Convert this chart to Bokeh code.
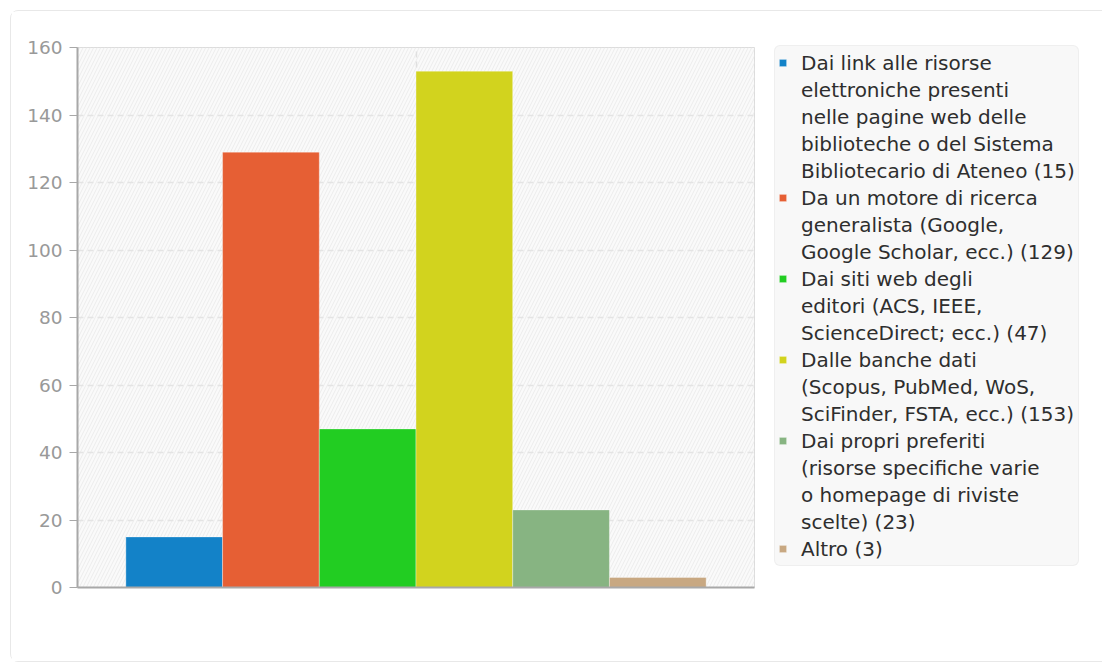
from bokeh.plotting import figure
from bokeh.models import (ColumnDataSource, Legend, LegendItem, FixedTicker,
                          BoxAnnotation)
from bokeh.embed import file_html
from bokeh.resources import INLINE

# ---- data ----
names = [
    "Dai link alle risorse\nelettroniche presenti\nnelle pagine web delle\nbiblioteche o del Sistema\nBibliotecario di Ateneo",
    "Da un motore di ricerca\ngeneralista (Google,\nGoogle Scholar, ecc.)",
    "Dai siti web degli\neditori (ACS, IEEE,\nScienceDirect; ecc.)",
    "Dalle banche dati\n(Scopus, PubMed, WoS,\nSciFinder, FSTA, ecc.)",
    "Dai propri preferiti\n(risorse specifiche varie\no homepage di riviste\nscelte)",
    "Altro",
]
values = [15, 129, 47, 153, 23, 3]
colors = ["#1382c8", "#e65f34", "#22cd22", "#d2d31e", "#87b482", "#c8a882"]
positions = [1, 2, 3, 4, 5, 6]
y_ticks = [0, 20, 40, 60, 80, 100, 120, 140, 160]

labels = [f"{n} ({v})" for n, v in zip(names, values)]

src = ColumnDataSource(dict(x=positions, top=values, color=colors, label=labels))

FONT = "DejaVu Sans"

p = figure(
    output_backend="svg", toolbar_location=None,
    frame_width=677, frame_height=540,
    x_range=(0, 7), y_range=(0, 160),
    min_border_left=66, min_border_top=36, min_border_bottom=74, min_border_right=345,
    background_fill_color="#fafafa", border_fill_color="white",
    outline_line_color="#dcdcdc", outline_line_width=1,
)
p.margin = (10, 0, 0, 10)
p.styles = {"border": "1px solid #e8e8e8", "border-radius": "8px"}

hatch = BoxAnnotation(fill_alpha=0, hatch_pattern="/", hatch_color="#ececec",
                      hatch_scale=7, hatch_weight=1, line_alpha=0, level="underlay")
p.add_layout(hatch)
p.center = [hatch] + [c for c in p.center if c is not hatch]

r = p.vbar(x="x", top="top", width=1.0, bottom=0, color="color", source=src,
           line_color="white", line_alpha=0.35, line_width=1)
blank = p.scatter(x=[], y=[], fill_alpha=0, line_alpha=0)

# axes
p.yaxis.ticker = FixedTicker(ticks=y_ticks)
p.yaxis.axis_line_color = "#a8a8a8"
p.yaxis.axis_line_width = 2
p.yaxis.major_tick_line_color = "#a8a8a8"
p.yaxis.major_tick_out = 8
p.yaxis.major_tick_in = 0
p.yaxis.minor_tick_line_color = None
p.yaxis.major_label_text_color = "#999999"
p.yaxis.major_label_text_font = FONT
p.yaxis.major_label_text_font_size = "18.5px"
p.yaxis.major_label_standoff = 7

p.xaxis.ticker = FixedTicker(ticks=[3.5])
p.xaxis.major_label_overrides = {3.5: ""}
p.xaxis.major_tick_line_color = None
p.xaxis.minor_tick_line_color = None
p.xaxis.axis_line_color = "#a8a8a8"
p.xaxis.axis_line_width = 2

p.ygrid.grid_line_color = "#e4e4e4"
p.ygrid.grid_line_dash = "6 4"
p.ygrid.grid_line_width = 1.5
p.xgrid.ticker = FixedTicker(ticks=[3.5])
p.xgrid.grid_line_color = "#e0e0e0"
p.xgrid.grid_line_dash = "6 4"
p.xgrid.grid_line_width = 1.5

# legend: one row per text line, swatch only on first line of each entry
items = []
for i, lab in enumerate(labels):
    for j, line in enumerate(lab.split("\n")):
        if j == 0:
            items.append(LegendItem(label=line, renderers=[r], index=i))
        else:
            items.append(LegendItem(label=line, renderers=[blank]))

legend = Legend(
    items=items, location=(20, 21),
    label_text_font=FONT, label_text_font_size="20px", label_text_color="#2e2e2e",
    label_height=27, glyph_width=9, glyph_height=9, label_standoff=14, spacing=0,
    padding=3, margin=0,
    background_fill_color="#f8f8f8", background_fill_alpha=1,
    border_line_color="#e6e6e6", border_line_width=1,
)
if "border_radius" in Legend.properties():
    legend.border_radius = 6
p.add_layout(legend, "right")

open("out.html", "w").write(file_html(p, INLINE))
